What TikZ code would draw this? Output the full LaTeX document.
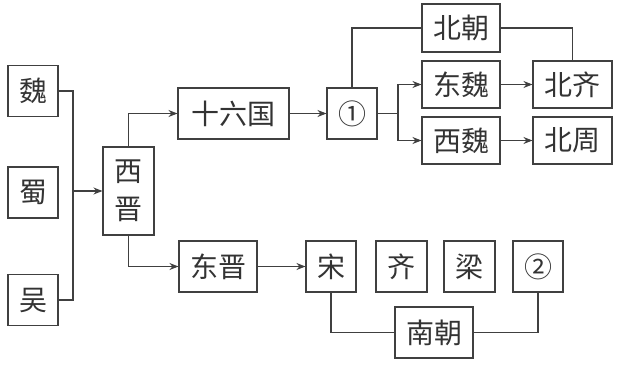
\documentclass[tikz,border=0pt]{standalone}
\usepackage{fontspec}
\newfontfamily\cjk{Noto Sans CJK SC}
\usetikzlibrary{arrows.meta}

\begin{document}
\begin{tikzpicture}[
  x=1pt, y=-1pt,
  font=\cjk\fontsize{28}{28}\selectfont,
  box/.style={
    draw=black!75,
    line width=1.1pt,
    text=black!80,
    inner sep=0pt,
    minimum width=50pt,
    minimum height=51pt
  },
  wide/.style={box, minimum width=78pt},
  link/.style={line width=1.1pt, draw=black!75},
  arr/.style={link, -{Stealth[length=9pt, width=7pt]}}
]
\useasboundingbox (0,0) rectangle (617,364);

% three kingdoms
\node[box] (wei) at (33,91) {魏};
\node[box] (shu) at (33,192.5) {蜀};
\node[box] (wu) at (33,300) {吴};
\node[box, minimum width=51pt, minimum height=88pt, align=center] (xijin) at (128.5,191) {西\\[10pt]晋};

\coordinate (join) at (73,191);
\draw[link] (wei.east) -| (join);
\draw[link] (wu.east) -| (join);
\draw[arr] (join) -- (xijin.west);

% north
\node[box, minimum width=111pt] (shiliu) at (233.5,113.5) {十六国};
\node[box] (one) at (352,113.5) {①};
\node[wide, minimum height=48pt] (beichao) at (461,28) {北朝};
\node[wide, minimum height=47pt] (dongwei) at (461,84.5) {东魏};
\node[wide, minimum height=47pt] (xiwei) at (461,140.5) {西魏};
\node[wide, minimum width=79pt, minimum height=47pt] (beiqi) at (572.5,84.5) {北齐};
\node[wide, minimum width=79pt, minimum height=47pt] (beizhou) at (572.5,140.5) {北周};

\draw[arr] (xijin.north) |- (shiliu.west);
\draw[arr] (shiliu.east) -- (one.west);
\coordinate (split) at (398,113.5);
\draw[link] (one.east) -- (split);
\draw[arr] (split) |- (dongwei.west);
\draw[arr] (split) |- (xiwei.west);
\draw[link] (one.north) |- (beichao.west);
\draw[link] (beichao.east) -| (beiqi.north);
\draw[arr] (dongwei.east) -- (beiqi.west);
\draw[arr] (xiwei.east) -- (beizhou.west);

% south
\node[wide] (dongjin) at (218,266.5) {东晋};
\node[box] (song) at (331,266.5) {宋};
\node[box, minimum width=51pt] (qi) at (401.5,266.5) {齐};
\node[box, minimum width=51pt] (liang) at (469.5,266.5) {梁};
\node[box] (two) at (538,266.5) {②};
\node[wide] (nanchao) at (434,332.5) {南朝};

\draw[arr] (xijin.south) |- (dongjin.west);
\draw[arr] (dongjin.east) -- (song.west);
\draw[link] (song.south) |- (nanchao.west);
\draw[link] (nanchao.east) -| (two.south);

\end{tikzpicture}
\end{document}
